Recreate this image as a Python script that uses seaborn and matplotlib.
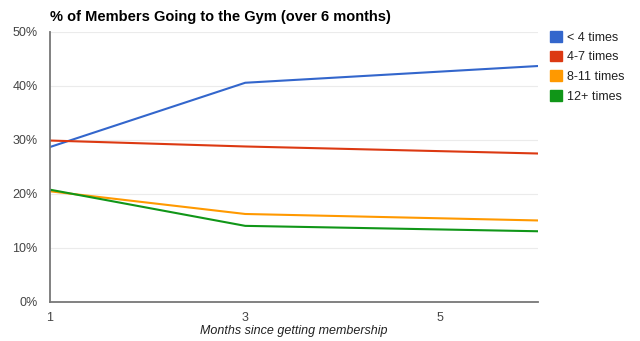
import matplotlib
matplotlib.use("Agg")
import matplotlib.pyplot as plt
from matplotlib.patches import Patch
from matplotlib.ticker import FuncFormatter
import seaborn as sns
import pandas as pd

months = [1, 3, 6]
series_names = ["< 4 times", "4-7 times", "8-11 times", "12+ times"]
under_4 = [28.7, 40.6, 43.7]
from_4_to_7 = [29.9, 28.8, 27.5]
from_8_to_11 = [20.5, 16.3, 15.1]
over_12 = [20.8, 14.1, 13.1]
colors = ["#3366cc", "#dc3912", "#ff9900", "#109618"]
y_ticks = [0, 10, 20, 30, 40, 50]
x_ticks = [1, 3, 5]

values = [under_4, from_4_to_7, from_8_to_11, over_12]
df = pd.DataFrame(
    [(m, name, v) for name, vals in zip(series_names, values) for m, v in zip(months, vals)],
    columns=["month", "group", "pct"],
)

sns.set_theme(style="white")
plt.rcParams["font.family"] = ["Liberation Sans", "DejaVu Sans"]

fig = plt.figure(figsize=(6.4, 3.41), dpi=100)
ax = fig.add_axes([50 / 640, 39 / 341, 488 / 640, 270 / 341])

palette = dict(zip(series_names, colors))
sns.lineplot(data=df, x="month", y="pct", hue="group", palette=palette,
             hue_order=series_names, linewidth=1.5, legend=False, ax=ax)

ax.set_xlim(1, 6)
ax.set_ylim(0, 50)
ax.set_yticks(y_ticks)
ax.set_xticks(x_ticks)
ax.yaxis.set_major_formatter(FuncFormatter(lambda v, _: f"{v:.0f}%"))
ax.grid(axis="y", color="#ebebeb", linewidth=0.8)
ax.set_axisbelow(True)

for side in ["top", "right"]:
    ax.spines[side].set_visible(False)
for side in ["left", "bottom"]:
    ax.spines[side].set_color("#777777")
    ax.spines[side].set_linewidth(1.3)

ax.tick_params(axis="both", labelsize=9, labelcolor="#444444", length=0)
ax.tick_params(axis="y", pad=9)
ax.tick_params(axis="x", pad=7)
ax.set_xlabel("Months since getting membership", fontsize=9, style="italic",
              color="#222222", labelpad=1)
ax.set_ylabel("")

fig.text(50 / 640, 1 - 17 / 341, "% of Members Going to the Gym (over 6 months)",
         fontsize=10.5, fontweight="bold", color="#000000", va="center", ha="left")

handles = [Patch(facecolor=c, edgecolor=c) for c in colors]
leg = fig.legend(handles, series_names, loc="upper left",
                 bbox_to_anchor=(550 / 640, 1 - 31 / 341), frameon=False,
                 fontsize=9, handlelength=0.95, handleheight=0.95,
                 handletextpad=0.4, labelspacing=0.56, borderaxespad=0,
                 borderpad=0)
for t in leg.get_texts():
    t.set_color("#222222")

fig.savefig("out.png", dpi=100)
